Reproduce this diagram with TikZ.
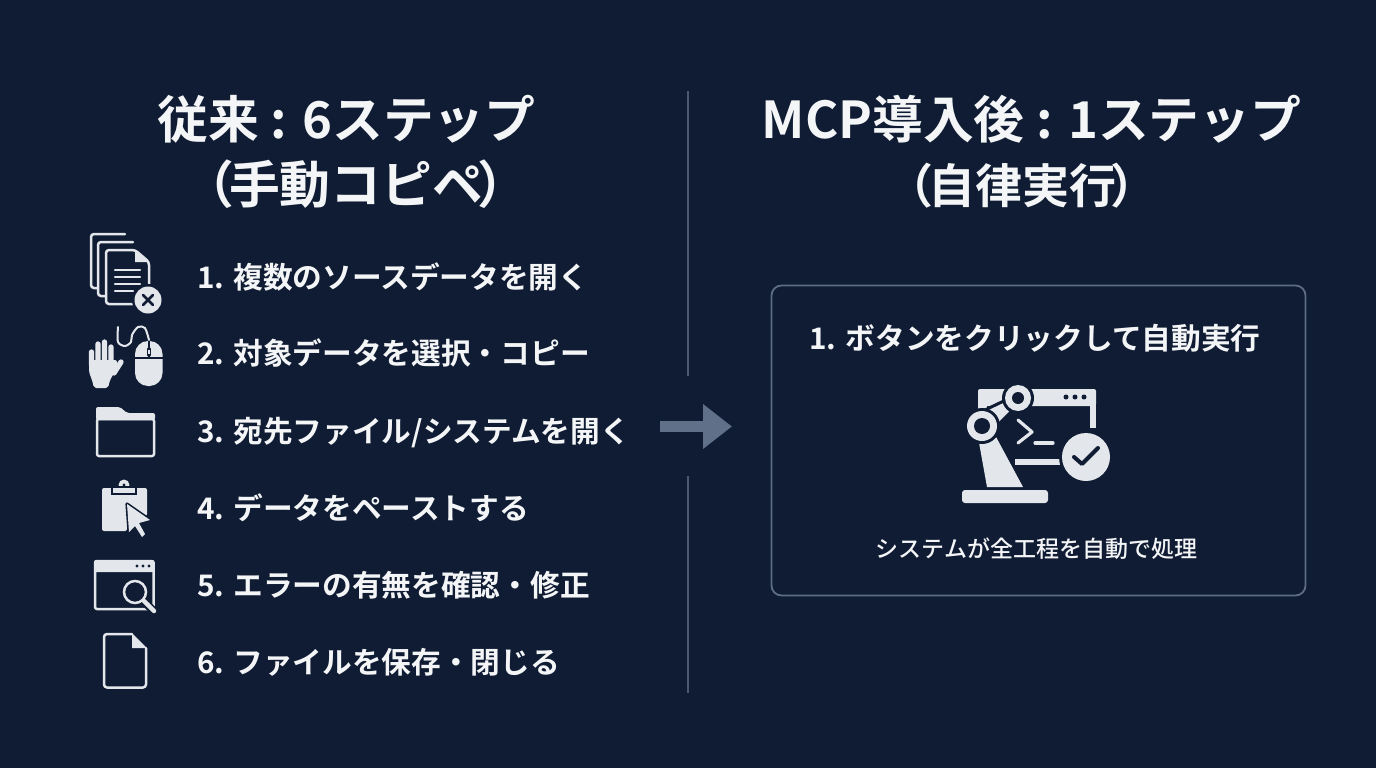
\documentclass[tikz,border=0pt]{standalone}
\usepackage{fontspec}
\setmainfont{Noto Sans CJK JP}[BoldFont={Noto Sans CJK JP Bold}]
\newfontfamily\notefont{Noto Sans CJK JP Medium}
\usetikzlibrary{arrows.meta}
\definecolor{bgcol}{HTML}{0F1C33}
\definecolor{inkcol}{HTML}{F4F5F7}
\definecolor{iconcol}{HTML}{E3E7EC}
\definecolor{sepcol}{HTML}{4A5870}
\definecolor{arrowcol}{HTML}{5F7088}
\definecolor{boxcol}{HTML}{5E6C82}
\def\tightl{\hspace{-.11em}}
\tikzset{
    headline/.style = {
        text=inkcol, anchor=base, inner sep=0pt, font=\bfseries\fontsize{50.8}{60}\selectfont
    },
    stepline/.style = {
        text=inkcol, anchor=base west, inner sep=0pt, font=\bfseries\fontsize{29.7}{36}\selectfont
    },
    iconline/.style = {
        draw=iconcol, line width=2.5pt, line join=round, line cap=round
    },
    iconfill/.style = {
        fill=iconcol
    },
    iconcut/.style = {
        fill=bgcol
    },
    DocStack/.pic = {
        \draw[iconline, rounded corners=3pt] (8,54) -- (1,54) -- (1,0) -- (35,0);
        \draw[iconline, rounded corners=3pt] (16,62) -- (8,62) -- (8,8) -- (43,8);
        \draw[iconline, rounded corners=3pt] (59,50) -- (59,28) -- (45,16) -- (16,16) -- (16,70) -- (44,70);
        \fill[iconfill] (45,16) -- (59,28) -- (45,28) -- cycle;
        \foreach \y in {36, 43, 50}{
            \draw[iconline] (25,\y) -- (50,\y);
        }
        \draw[iconline] (25,57) -- (43,57);
        \fill[iconcut] (58,66) circle (16);
        \fill[iconfill] (58,66) circle (13.5);
        \draw[bgcol, line width=2.8pt, line cap=round] (53,61) -- (63,71) (63,61) -- (53,71);
    },
    HandMouse/.pic = {
        \fill[iconfill, rounded corners=2pt] (1,33) -- (29,33) -- (29,41) -- (22,53) -- (20,61) -- (6,61) -- (4,53) -- (1,45) -- cycle;
        \draw[iconcol, line width=5.3pt, line cap=round] (3.5,38) -- (3.5,25) (10,36) -- (10,17)
            (16.5,36) -- (16.5,15) (23,36) -- (23,20) (26,46) -- (33,35);
        \draw[iconline, line width=2pt] plot[smooth] coordinates {(61,13) (57,1) (50,0) (44,8) (43,15) (37,19) (30,15) (30,0)};
        \fill[iconfill, rounded corners=13pt] (47,14) rectangle (74.5,59);
        \draw[bgcol, line width=1.4pt] (47,31) -- (74.5,31) (61,14) -- (61,31);
        \draw[bgcol, line width=3.4pt, line cap=round] (61,22) -- (61,28);
        \draw[iconcol, line width=1.2pt] (61,23) -- (61,27);
    },
    Folder/.pic = {
        \draw[iconline, rounded corners=2pt] (1,12) rectangle (58,49);
        \fill[iconfill, rounded corners=2pt] (0,13) -- (0,0) -- (24,0) -- (31,6) -- (59,6) -- (59,13) -- cycle;
    },
    ClipCursor/.pic = {
        \fill[iconfill, rounded corners=2pt] (0,10) -- (45,10) -- (45,38) -- (25,38) -- (25,53) -- (0,53) -- cycle;
        \fill[iconfill] (22,7) circle (5.5);
        \fill[iconcut] (22,7) circle (1.6);
        \draw[bgcol, line width=1.6pt, fill=iconcol] (10,9) rectangle (34,16);
        \filldraw[draw=bgcol, fill=iconcol, line width=3.2pt, line join=round] (25,26) -- (48,42) -- (37,45) -- (43,56) -- (40,59) -- (33,48) -- (27,54) -- cycle;
        \fill[iconfill] (25,26) -- (48,42) -- (37,45) -- (43,56) -- (40,59) -- (33,48) -- (27,54) -- cycle;
    },
    SearchWindow/.pic = {
        \draw[iconline, rounded corners=2pt] (1,1) rectangle (59.5,49);
        \fill[iconfill, rounded corners=2pt] (0,0) rectangle (60.5,12);
        \foreach \x in {43, 49, 55}{
            \fill[iconcut] (\x,6) circle (1.7);
        }
        \fill[iconcut] (41,32) circle (14);
        \draw[bgcol, line width=8pt, line cap=round] (49,41) -- (60,51);
        \draw[iconcol, line width=2.5pt] (41,32) circle (11);
        \draw[iconcol, line width=4.5pt, line cap=round] (50,41) -- (60,51);
    },
    BlankDoc/.pic = {
        \draw[iconline, rounded corners=3pt] (29,1) -- (1,1) -- (1,54.5) -- (43,54.5) -- (43,15);
        \fill[iconfill] (29,0) -- (44,15) -- (29,15) -- cycle;
    },
    RobotTerm/.pic = {
        \fill[iconfill, rounded corners=2pt] (16,0) rectangle (134,17);
        \fill[iconfill] (128,10) rectangle (134,39);
        \fill[iconfill] (53,70) rectangle (98,76);
        \fill[iconfill] (16,5) rectangle (25,22);
        \foreach \x in {104, 113, 122}{
            \fill[iconcut] (\x,8) circle (2.5);
        }
        \draw[iconcol, line width=3.2pt, line cap=round, line join=round] (56,31) -- (70,43) -- (56,54);
        \draw[iconcol, line width=3.2pt, line cap=round] (73,54) -- (91,54);
        \fill[iconcut] (124,68) circle (27);
        \fill[iconfill] (124,68) circle (24);
        \draw[bgcol, line width=4pt, line cap=round, line join=round] (112,68) -- (120,75) -- (136,59);
        \filldraw[draw=bgcol, fill=iconcol, line width=3pt] (23,21) -- (48,9) -- (53,19) -- (31,41) -- cycle;
        \fill[iconfill] (16,48) -- (25,98) -- (61,98) -- (33,46) -- cycle;
        \fill[iconcut] (56,9) circle (16);
        \fill[iconfill] (56,9) circle (13);
        \fill[iconcut] (56,9) circle (6);
        \fill[iconcut] (20,37) circle (18);
        \fill[iconfill] (20,37) circle (15);
        \fill[iconcut] (20,37) circle (8);
        \fill[iconfill, rounded corners=3pt] (0,114) -- (0,101) -- (86,101) -- (86,114) -- cycle;
    },
}
\begin{document}
\begin{tikzpicture}[x=1pt, y=-1pt]
        % Fix the page 
        \fill[bgcol] (0,0) rectangle (1376,768);
        \useasboundingbox (0,0) rectangle (1376,768);

        % Place the headings 
        \node[headline] (oldhead) at (346.5,138) {従来 : 6ステップ};
        \node[headline] (oldsub) at (356,203) {（\tightl 手動コピペ\tightl ）};
        \node[headline] (newhead) at (1031.5,138) {MCP導入後 : 1ステップ};
        \node[headline, font=\bfseries\fontsize{47}{60}\selectfont] (newsub) at (1022,203) {（\tightl 自律実行\tightl ）};

        % Place the steps 
        \node[stepline] (stepa) at (197,288) {1. 複数のソースデータを開く};
        \node[stepline] (stepb) at (197,364) {2. 対象データを選択・コピー};
        \node[stepline] (stepc) at (197,442) {3. 宛先ファイル/システムを開く};
        \node[stepline] (stepd) at (197,519) {4. データをペーストする};
        \node[stepline] (stepe) at (197,596) {5. エラーの有無を確認・修正};
        \node[stepline] (stepf) at (197,673) {6. ファイルを保存・閉じる};

        % Place the icons 
        \pic (docs) at (90,234) {DocStack};
        \pic (hand) at (88,327) {HandMouse};
        \pic (folder) at (96,407) {Folder};
        \pic (clip) at (102,478) {ClipCursor};
        \pic (search) at (94,560) {SearchWindow};
        \pic (blank) at (103,633) {BlankDoc};

        % Draw the divider and the arrow 
        \coordinate (septop) at (688,91);
        \coordinate (sepmid) at (688,376);
        \coordinate (sepmidb) at (688,476);
        \coordinate (sepend) at (688,693);
        \draw[sepcol, line width=1.6pt] (septop) -- (sepmid) (sepmidb) -- (sepend);
        \coordinate (arrowfrom) at (660,426.5);
        \coordinate (arrowto) at (732,426.5);
        \draw[-{Triangle[width=43pt,length=29pt]}, arrowcol, line width=11pt] (arrowfrom) -- (arrowto);

        % Place the box 
        \draw[boxcol, line width=1.8pt, rounded corners=10pt] (771.5,285.5) rectangle (1305.5,595.5);
        \node[text=inkcol, font=\bfseries\fontsize{29.7}{34}\selectfont] (boxtitle) at (1035,338) {1. ボタンをクリックして自動実行};
        \pic (robot) at (962,389) {RobotTerm};
        \node[text=inkcol, font=\notefont\fontsize{23}{28}\selectfont] (boxnote) at (1036.5,549) {システムが全工程を自動で処理};
\end{tikzpicture}
\end{document}
